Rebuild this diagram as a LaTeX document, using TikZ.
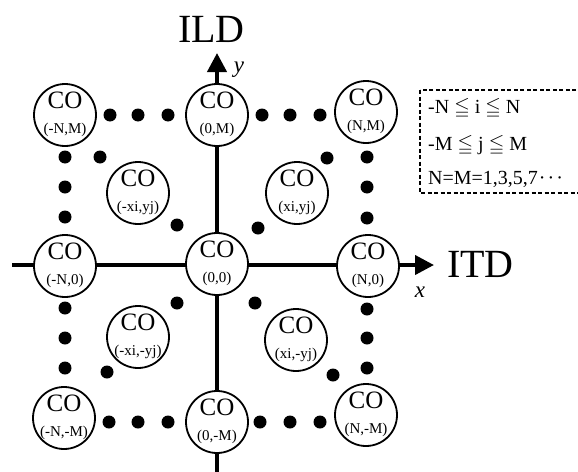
\documentclass[tikz,border=0pt]{standalone}
\usepackage{amssymb}
\usepackage{fontspec}
\setmainfont{Liberation Serif}
\usetikzlibrary{arrows.meta}
\newcommand\conode[3]{%
  \node[co] (#1) at (#2) {};
  \node[cotop] (#1-t) at ([yshift=7pt]#1.center) {CO};
  \node[cobot] (#1-b) at ([yshift=-18pt]#1.center) {#3};}
\begin{document}
\begin{tikzpicture}[x=1pt,y=-1pt,
  co/.style={circle,draw,line width=1.8pt,fill=white,minimum size=62pt,inner sep=0pt},
  cotop/.style={anchor=base,inner sep=0pt,font=\fontsize{25}{25}\selectfont},
  cobot/.style={anchor=base,inner sep=0pt,font=\fontsize{15}{15}\selectfont},
  dot/.style={circle,fill=black,inner sep=0pt,minimum size=13pt},
  axis/.style={line width=4pt,-{Triangle[length=19pt,width=19pt]}},
  big/.style={font=\fontsize{40}{40}\selectfont},
  axlab/.style={font=\fontsize{23}{23}\selectfont\itshape,inner sep=0pt},
  boxtxt/.style={font=\fontsize{20}{20}\selectfont,anchor=base west,inner sep=0pt}]
\useasboundingbox (0,0) rectangle (578,471);
\clip (0,0) rectangle (578,471);
% axes
\coordinate (yb) at (217,475);
\coordinate (yt) at (217,53);
\coordinate (xl) at (12,265);
\coordinate (xr) at (434,265);
\draw[axis] (yb) -- (yt);
\draw[axis] (xl) -- (xr);
% axis labels
\node[big,anchor=base west,inner sep=0pt] (ild) at (178,42) {ILD};
\node[big,anchor=base west,inner sep=0pt] (itd) at (447,277) {ITD};
\node[axlab,anchor=base] (ylab) at (239,72) {y};
\node[axlab,anchor=base] (xlab) at (420,297) {x};
% nodes
\conode{nNM}{65,115}{(-N,M)}
\conode{n0M}{217,115}{(0,M)}
\conode{pNM}{366,112}{(N,M)}
\conode{nN0}{65,266}{(-N,0)}
\conode{n00}{217,264}{(0,0)}
\conode{pN0}{368,266}{(N,0)}
\conode{nNnM}{64,418}{(-N,-M)}
\conode{n0nM}{217,422}{(0,-M)}
\conode{pNnM}{366,415}{(N,-M)}
\conode{mxpy}{138,193}{(-xi,yj)}
\conode{pxpy}{297,193}{(xi,yj)}
\conode{mxmy}{138,337}{(-xi,-yj)}
\conode{pxmy}{296,340}{(xi,-yj)}
% dots
\foreach \x/\y [count=\i] in {110/115,138/115,168/115,262/115,290/115,320/115,
  65/157,65/187,65/217,100/157,177/225,
  367/157,367/187,367/218,327/158,258/228,
  65/308,65/338,65/368,177/303,107/372,
  367/309,367/338,367/368,333/375,255/303,
  109/422,138/422,168/422,260/422,290/422,320/422}
  \node[dot] (d\i) at (\x,\y) {};
% range box
\draw[line width=1.2pt,dash pattern=on 4pt off 2.5pt] (420,90) rectangle (590,193);
\node[boxtxt] (t1) at (428,113) {-N $\leqq$ i $\leqq$ N};
\node[boxtxt] (t2) at (428,150) {-M $\leqq$ j $\leqq$ M};
\node[boxtxt] (t3) at (428,184) {N=M=1,3,5,7\kern1pt·\kern2pt·\kern2pt·};
\end{tikzpicture}
\end{document}
